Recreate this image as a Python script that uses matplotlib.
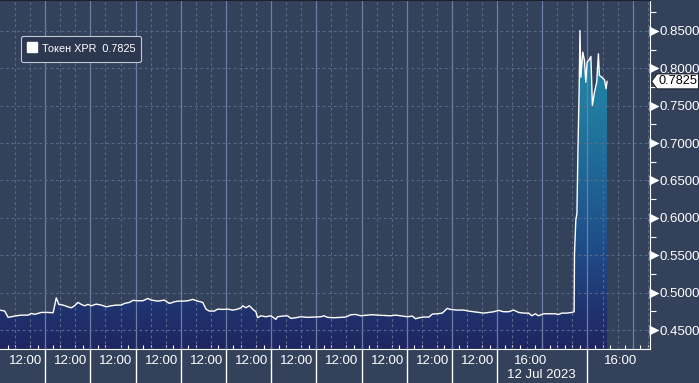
import numpy as np
import matplotlib
matplotlib.use("Agg")
import matplotlib.pyplot as plt
import matplotlib.transforms as mtransforms
from matplotlib.colors import LinearSegmentedColormap
from matplotlib.lines import Line2D
from matplotlib.patches import Polygon

# hours since the start of the window, token price in USD
hours = [0.0, 2.5, 4.3, 6.1, 8.7, 11.4, 14.9, 16.7, 18.4, 22.0, 25.5, 28.2, 29.9, 31.2, 33.5,
         36.1, 37.9, 39.6, 41.4, 43.2, 44.9, 46.7, 48.5, 51.1, 53.8, 56.4, 59.1, 61.7, 64.4,
         66.1, 68.8, 70.6, 73.2, 75.9, 78.5, 80.3,
         83.8, 87.3, 90.0, 92.6, 94.4, 97.1, 99.7, 102.4, 105.0, 107.7, 109.4, 111.2, 113.8,
         115.6, 118.3, 120.9, 123.6, 126.2, 128.0, 128.9, 130.6, 132.4, 134.2, 135.9, 136.8,
         138.6, 141.2, 143.9, 146.5, 147.4, 150.1, 152.7, 154.5, 157.1, 159.8,
         163.3, 166.8, 170.4, 172.1, 173.9, 177.4, 181.0, 183.6, 186.3, 188.9, 191.6, 195.1,
         197.8, 200.4, 203.9, 207.5, 210.1, 212.8, 216.3, 219.0, 220.7, 222.5, 225.1, 227.8,
         229.6, 232.2, 234.9, 237.5, 239.2,
         242.8, 246.3, 248.9, 251.6, 254.2, 256.9, 259.5, 262.2, 264.8, 267.5, 270.1, 272.8,
         275.4, 278.1, 280.7, 282.5, 284.3, 286.0, 288.7, 292.2, 294.9, 296.6, 298.4, 301.1,
         303.7, 304.9,
         305.1, 305.8, 306.4, 306.9, 307.6, 308.0, 308.5, 309.5, 310.4, 311.1, 311.8, 312.9,
         313.8, 314.6, 315.7, 316.9, 317.8, 318.3, 319.6, 321.0, 321.9, 322.4]
price = [0.4767, 0.4754, 0.4670, 0.4678, 0.4691, 0.4700, 0.4700, 0.4723, 0.4710, 0.4736,
         0.4736, 0.4731, 0.4931, 0.4843, 0.4834, 0.4811, 0.4798, 0.4825, 0.4870, 0.4843,
         0.4825, 0.4843, 0.4825, 0.4847, 0.4834, 0.4811, 0.4825, 0.4834, 0.4834, 0.4856,
         0.4870, 0.4897, 0.4892, 0.4892, 0.4923, 0.4901,
         0.4887, 0.4901, 0.4856, 0.4878, 0.4887, 0.4887, 0.4892, 0.4910, 0.4887, 0.4870,
         0.4780, 0.4754, 0.4754, 0.4780, 0.4776, 0.4780, 0.4767, 0.4780, 0.4798, 0.4825,
         0.4798, 0.4825, 0.4780, 0.4745, 0.4665, 0.4691, 0.4678, 0.4691, 0.4643, 0.4678,
         0.4687, 0.4691, 0.4656, 0.4665, 0.4678,
         0.4670, 0.4674, 0.4678, 0.4691, 0.4670, 0.4665, 0.4670, 0.4674, 0.4705, 0.4709,
         0.4691, 0.4700, 0.4705, 0.4700, 0.4696, 0.4691, 0.4700, 0.4691, 0.4678, 0.4687,
         0.4651, 0.4665, 0.4674, 0.4674, 0.4714, 0.4718, 0.4727, 0.4790, 0.4776,
         0.4767, 0.4767, 0.4754, 0.4745, 0.4736, 0.4727, 0.4736, 0.4745, 0.4763, 0.4745,
         0.4745, 0.4767, 0.4736, 0.4727, 0.4727, 0.4691, 0.4718, 0.4691, 0.4718, 0.4718,
         0.4718, 0.4709, 0.4727, 0.4727, 0.4736, 0.4745,
         0.5524, 0.5969, 0.6060, 0.6860, 0.7750, 0.8505, 0.7880, 0.8216, 0.8105, 0.7815,
         0.8080, 0.8114, 0.8158, 0.7504, 0.7680, 0.7815, 0.8194, 0.7905, 0.7882, 0.7847,
         0.7727, 0.7825]

last_price = 0.7825
series_name = "Токен XPR"

# x axis: labels and day boundaries (in hours)
tick_hours = [12, 36, 60, 84, 108, 132, 156, 180, 204, 228, 252, 280, 328]
tick_labels = ["12:00"] * 11 + ["16:00", "16:00"]
date_label = "12 Jul 2023"
date_label_hour = 269.5
day_bounds = [24, 48, 72, 96, 120, 144, 168, 192, 216, 240, 264, 312]
y_major = [0.45, 0.50, 0.55, 0.60, 0.65, 0.70, 0.75, 0.80, 0.85]

BG = "#33415b"
GRID = "#56698a"
DAYGRID = "#6a7fa6"

plt.rcParams["font.family"] = ["Liberation Sans", "DejaVu Sans"]

fig = plt.figure(figsize=(6.99, 3.83), dpi=100, facecolor=BG)
ax = fig.add_axes([0, 34 / 383, 650 / 699, 349 / 383])
ax.set_facecolor(BG)

xmin, xmax = 0, 345.2
ymin, ymax = 0.4247, 0.8913

# gradient area under the line
area = ax.fill_between(hours, price, ymin, color="none", lw=0)
cmap = LinearSegmentedColormap.from_list("area", [
    (0.0, "#1e2660"), (0.10, "#20316d"), (0.27, "#1f4a86"),
    (0.48, "#1f6494"), (0.70, "#1f7ca2"), (1.0, "#278daf")])
grad = np.linspace(0, 1, 256).reshape(-1, 1)
im = ax.imshow(grad, extent=[xmin, xmax, ymin, ymax], origin="lower",
               aspect="auto", cmap=cmap, zorder=1)
im.set_clip_path(area.get_paths()[0], transform=ax.transData)

# grid: dashed every 8h / 0.05, solid at day boundaries
for h in np.arange(8, xmax, 8):
    if h % 24 == 0:
        ax.axvline(h, color=DAYGRID, lw=0.9, zorder=2)
    else:
        ax.axvline(h, color=GRID, lw=0.8, ls=(0, (2.5, 2.5)), zorder=2)
for y in y_major:
    ax.axhline(y, color=GRID, lw=0.8, ls=(0, (2.5, 2.5)), zorder=2)

ax.plot(hours, price, color="white", lw=1.0, zorder=4)

ax.set_xlim(xmin, xmax)
ax.set_ylim(ymin, ymax)

# spines
ax.spines["left"].set_visible(False)
ax.spines["top"].set_color("#1c2130")
ax.spines["top"].set_linewidth(1.5)
ax.spines["right"].set_color("white")
ax.spines["bottom"].set_color("white")

# x ticks
ax.set_xticks(tick_hours)
ax.set_xticklabels(tick_labels)
ax.set_xticks(np.arange(4, xmax, 4), minor=True)
ax.tick_params(axis="x", which="major", length=0, pad=4, colors="white", labelsize=9.5)
ax.tick_params(axis="x", which="minor", direction="in", length=3, color="white", width=0.8)
shift = mtransforms.ScaledTranslation(3 / 100, 0, fig.dpi_scale_trans)
for lab in ax.get_xticklabels():
    lab.set_transform(lab.get_transform() + shift)
ax.text(date_label_hour, -0.057, date_label, transform=ax.get_xaxis_transform(),
        ha="left", va="top", color="white", fontsize=9.5)
ax.vlines(day_bounds, -34 / 349, 0, transform=ax.get_xaxis_transform(),
          color="white", lw=1, clip_on=False, zorder=5)

# y axis on the right
ax.yaxis.tick_right()
ax.set_yticks(y_major)
ax.set_yticklabels([f"{v:.4f}" for v in y_major])
ax.set_yticks(np.arange(0.475, 0.9, 0.05), minor=True)
ax.tick_params(axis="y", which="major", length=0, pad=7, colors="white", labelsize=9.5)
ax.tick_params(axis="y", which="minor", direction="out", length=4, color="white", width=0.8)
tri = ax.get_yaxis_transform() + mtransforms.ScaledTranslation(3.5 / 100, 0, fig.dpi_scale_trans)
ax.plot([1] * len(y_major), y_major, ls="none", marker=">", ms=6.5, color="white",
        mec="none", transform=tri, clip_on=False, zorder=6)

# last price tag
tag = fig.dpi_scale_trans + mtransforms.ScaledTranslation(1, last_price, ax.get_yaxis_transform())
ax.add_patch(Polygon([(0.015, 0), (0.07, 0.075), (0.485, 0.075), (0.485, -0.075), (0.07, -0.075)],
                     closed=True, facecolor="white", edgecolor="#1a1f2b", lw=0.8,
                     transform=tag, clip_on=False, zorder=10))
ax.text(0.085, 0, f"{last_price:.4f}", transform=tag, ha="left", va="center",
        color="black", fontsize=9.2, zorder=11, clip_on=False)

# legend
handle = Line2D([], [], ls="none", marker="s", ms=7, color="white")
leg = ax.legend(handles=[handle], labels=[f"{series_name}  {last_price:.4f}"],
                loc="upper left", bbox_to_anchor=(0.21, 3.47),
                bbox_transform=fig.dpi_scale_trans, fontsize=7.8,
                handlelength=0.85, handleheight=1.6, handletextpad=0.5,
                borderpad=0.55, borderaxespad=0, fancybox=True, framealpha=1,
                facecolor="#2c3750", edgecolor="#c3c9d4", labelcolor="white")
leg.get_frame().set_linewidth(0.8)
leg.set_zorder(12)

fig.savefig("out.png", dpi=100, facecolor=BG)
